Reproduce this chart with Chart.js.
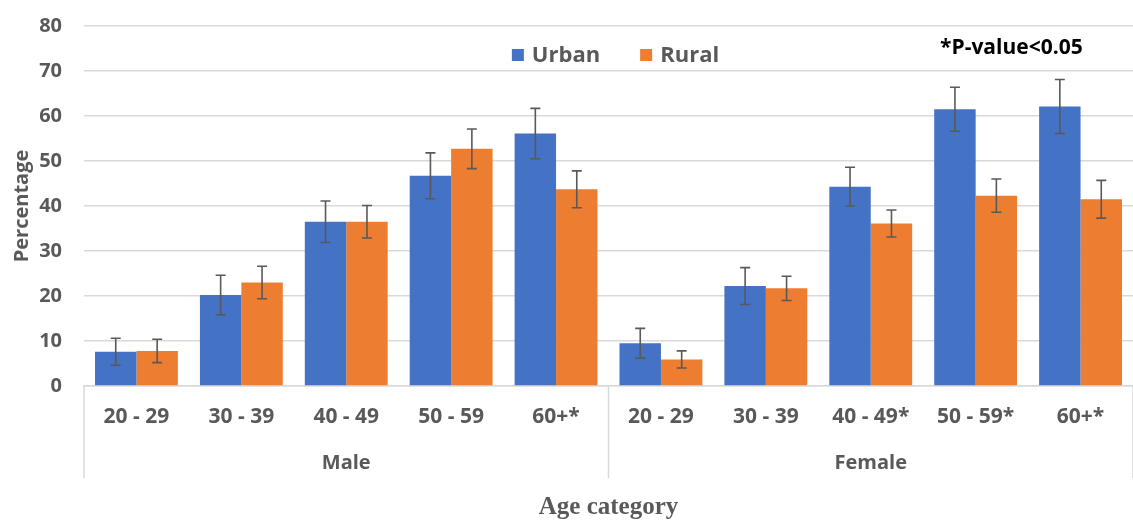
<!DOCTYPE html>
<html>
<head>
<meta charset="utf-8">
<script src="https://cdn.jsdelivr.net/npm/chart.js@4"></script>
<style>
  html, body { margin: 0; padding: 0; background: #ffffff; }
  #wrap { width: 1133px; height: 520px; position: relative; }
</style>
</head>
<body>
<div id="wrap"><canvas id="c"></canvas></div>
<script>
// ---- data ----
const categories = ["20 - 29", "30 - 39", "40 - 49", "50 - 59", "60+*", "20 - 29", "30 - 39", "40 - 49*", "50 - 59*", "60+*"];
const groups = ["Male", "Female"];
const groupSizes = [5, 5];
const seriesNames = ["Urban", "Rural"];
const urban = [7.6, 20.2, 36.5, 46.7, 56.1, 9.5, 22.2, 44.3, 61.5, 62.1];
const rural = [7.8, 23.0, 36.5, 52.7, 43.7, 5.9, 21.7, 36.1, 42.3, 41.5];
const urbanErr = [3.0, 4.4, 4.6, 5.1, 5.6, 3.3, 4.1, 4.3, 4.9, 6.0];
const ruralErr = [2.6, 3.6, 3.6, 4.4, 4.1, 1.9, 2.7, 3.0, 3.7, 4.2];
const yTicks = [0, 10, 20, 30, 40, 50, 60, 70, 80];
const noteText = "*P-value<0.05";

const FONT = "'Open Sans', 'Noto Sans', sans-serif";
const GREY = "#595959";
const GRID = "#d9d9d9";

// error bars plugin
const errorBars = {
  id: 'errorBars',
  afterDatasetsDraw(chart) {
    const ctx = chart.ctx;
    const y = chart.scales.y;
    ctx.save();
    ctx.strokeStyle = GREY;
    ctx.lineWidth = 1.6;
    chart.data.datasets.forEach((ds, di) => {
      const meta = chart.getDatasetMeta(di);
      meta.data.forEach((bar, i) => {
        const v = ds.data[i], e = ds.errors[i];
        const yt = y.getPixelForValue(v + e), yb = y.getPixelForValue(v - e);
        const x = bar.x, cw = 5;
        ctx.beginPath();
        ctx.moveTo(x, yt); ctx.lineTo(x, yb);
        ctx.moveTo(x - cw, yt); ctx.lineTo(x + cw, yt);
        ctx.moveTo(x - cw, yb); ctx.lineTo(x + cw, yb);
        ctx.stroke();
      });
    });
    ctx.restore();
  }
};

// legend, note and group separators
const decorations = {
  id: 'decorations',
  afterDraw(chart) {
    const ctx = chart.ctx;
    const area = chart.chartArea;
    const x = chart.scales.x;
    ctx.save();
    // separators for multi-level axis
    ctx.strokeStyle = GRID;
    ctx.lineWidth = 1.5;
    const bottom = area.bottom + 92;
    const bounds = [area.left];
    let idx = 0;
    groupSizes.forEach(n => {
      idx += n;
      if (idx < categories.length) {
        bounds.push((x.getPixelForValue(idx - 1) + x.getPixelForValue(idx)) / 2);
      }
    });
    bounds.push(area.right);
    bounds.forEach(bx => {
      ctx.beginPath();
      ctx.moveTo(bx, area.bottom);
      ctx.lineTo(bx, bottom);
      ctx.stroke();
    });
    // legend
    ctx.font = "bold 22px " + FONT;
    ctx.textBaseline = 'middle';
    ctx.textAlign = 'left';
    const box = 12, gap = 8, spacing = 40;
    const widths = chart.data.datasets.map(ds => ctx.measureText(ds.label).width);
    let total = 0;
    widths.forEach((w, i) => { total += box + gap + w + (i ? spacing : 0); });
    let lx = (area.left + area.right) / 2 + 7 - total / 2;
    const ly = area.top + 29;
    chart.data.datasets.forEach((ds, i) => {
      ctx.fillStyle = ds.backgroundColor;
      ctx.fillRect(lx, ly - box / 2, box, box);
      ctx.fillStyle = GREY;
      ctx.fillText(ds.label, lx + box + gap, ly + 1);
      lx += box + gap + widths[i] + spacing;
    });
    // note
    ctx.font = "bold 21px " + FONT;
    ctx.fillStyle = "#000000";
    ctx.fillText(noteText, area.left + 856, area.top + 22);
    ctx.restore();
  }
};

new Chart(document.getElementById('c'), {
  type: 'bar',
  data: {
    labels: categories,
    datasets: [
      { label: seriesNames[0], data: urban, errors: urbanErr, backgroundColor: '#4472C4', borderWidth: 0 },
      { label: seriesNames[1], data: rural, errors: ruralErr, backgroundColor: '#ED7D31', borderWidth: 0 }
    ]
  },
  options: {
    responsive: true,
    maintainAspectRatio: false,
    animation: false,
    layout: { padding: { top: 26, right: 0, bottom: 0, left: 0 } },
    datasets: { bar: { categoryPercentage: 0.79, barPercentage: 1.0 } },
    plugins: {
      legend: { display: false },
      tooltip: { enabled: false }
    },
    scales: {
      x: {
        type: 'category',
        position: 'bottom',
        weight: 0,
        afterFit(scale) { scale.height = 46; },
        grid: { display: false, drawTicks: false },
        border: { display: true, color: GRID, width: 1.5 },
        ticks: { color: GREY, font: { family: FONT, size: 21, weight: 'bold' }, padding: 18, maxRotation: 0, autoSkip: false }
      },
      group: {
        type: 'category',
        labels: groups,
        position: 'bottom',
        offset: true,
        weight: 1,
        afterFit(scale) { scale.height = 88; },
        grid: { display: false, drawTicks: false },
        border: { display: false },
        ticks: { color: GREY, font: { family: FONT, size: 20, weight: 'bold' }, padding: 19, maxRotation: 0, autoSkip: false },
        title: { display: true, text: 'Age category', color: GREY, font: { family: "'Liberation Serif', serif", size: 25, weight: 'bold', lineHeight: 1.0 }, padding: { top: 0, bottom: 0 } }
      },
      y: {
        min: 0,
        max: 80,
        afterFit(scale) { scale.width = 84; scale.paddingTop = 0; scale.paddingBottom = 0; },
        afterBuildTicks(scale) { scale.ticks = yTicks.map(v => ({ value: v })); },
        grid: { color: GRID, lineWidth: 1.5, drawTicks: false },
        border: { display: false },
        ticks: { color: GREY, font: { family: FONT, size: 20, weight: 'bold' }, padding: 22 },
        title: { display: true, text: 'Percentage', color: GREY, font: { family: FONT, size: 20, weight: 'bold' }, padding: { top: 10, bottom: 0 } }
      }
    }
  },
  plugins: [errorBars, decorations]
});
</script>
</body>
</html>
